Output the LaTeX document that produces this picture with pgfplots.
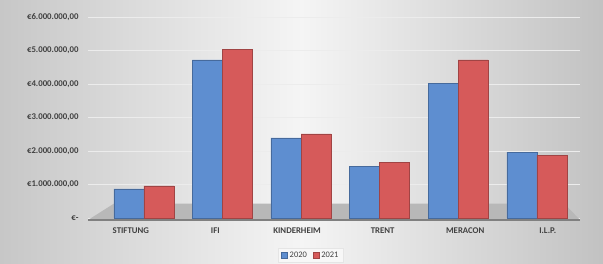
\documentclass[border=0pt]{standalone}
\usepackage{pgfplots}
\pgfplotsset{compat=1.18}
\usepackage{fontspec}
\setmainfont{Carlito}
\definecolor{bblue}{RGB}{94,142,208}
\definecolor{bred}{RGB}{214,90,90}
\definecolor{lab}{RGB}{64,64,64}
\begin{document}
\begin{tikzpicture}[x=1bp,y=1bp]
\shade[left color=black!22, right color=black!24, middle color=black!4] (0,0) rectangle (603,263);
\begin{axis}[
  at={(88bp,45bp)}, anchor=south west,
  scale only axis, width=492bp, height=201bp,
  ymin=0, ymax=6000000, xmin=-0.71, xmax=5.55,
  ybar=0pt, bar width=30bp,
  axis line style={draw=none},
  ytick={0,1000000,2000000,3000000,4000000,5000000,6000000},
  yticklabels={€-,€1.000.000{,}00,€2.000.000{,}00,€3.000.000{,}00,€4.000.000{,}00,€5.000.000{,}00,€6.000.000{,}00},
  xtick={-0.165,0.91,1.95,3.04,4.09,5.14},
  xticklabels={STIFTUNG,IFI,KINDERHEIM,TRENT,MERACON,I.L.P.},
  major tick length=0pt,
  ymajorgrids, grid style={white!85!gray, line width=0.8pt},
  tick label style={font=\fontsize{8.8}{10}\selectfont\bfseries, text=lab},
  yticklabel style={xshift=-6bp},
  xticklabel style={yshift=-6bp},
  scaled y ticks=false,
  legend style={at={(0.453,-0.185)}, anchor=center, draw=white!80!gray, fill=white!94!gray,
    font=\fontsize{8.5}{10}\selectfont, text=lab, legend columns=2,
    /tikz/every even column/.append style={column sep=4bp}},
  legend image code/.code={\filldraw[#1] (0bp,-3bp) rectangle (6bp,3bp);},
  clip=false,
]
\fill[black!28] (axis cs:-0.71,-60000) -- (axis cs:5.55,-60000) -- (axis cs:5.35,430000) -- (axis cs:-0.38,430000) -- cycle;
\draw[black!50, line width=1.2pt] (axis cs:-0.71,-60000) -- (axis cs:5.55,-60000);
\addplot[fill=bblue, draw=bblue!75!black] coordinates {(0,870000) (1,4720000) (2,2390000) (3,1540000) (4,4030000) (5,1970000)};
\addplot[fill=bred, draw=bred!75!black] coordinates {(0,960000) (1,5040000) (2,2510000) (3,1660000) (4,4720000) (5,1880000)};
\legend{2020,2021}
\end{axis}
\end{tikzpicture}
\end{document}
